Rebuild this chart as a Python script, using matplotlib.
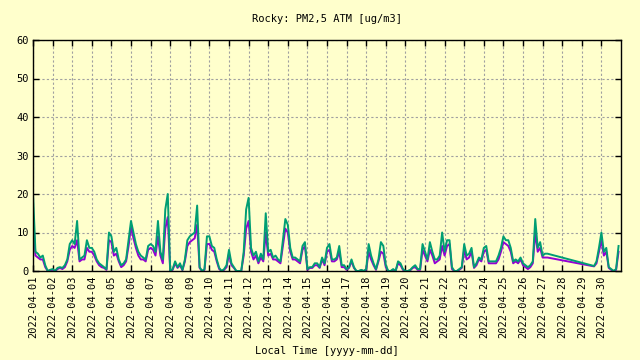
import pandas as pd
import matplotlib
matplotlib.use('Agg')
import matplotlib.pyplot as plt
import matplotlib.dates as mdates

# 3-hourly samples, 2022-04-01 00:00 .. 2022-04-27 06:00, then 2022-04-29 15:00 .. 2022-04-30 21:00
seg1_start, seg1_end = '2022-04-01 00:00', '2022-04-27 06:00'
seg2_start, seg2_end = '2022-04-29 15:00', '2022-04-30 21:00'

pm_b = [  # green
    20, 5, 4.5, 3.5, 4, 1.5, 0, 0.3,
    0.5, 0, 0.8, 1, 0.8, 1.5, 3, 7,
    8, 7, 13, 3, 3.5, 4, 8, 6,
    6, 5, 3, 2, 1.5, 1, 0.5, 10,
    9, 5, 6, 3, 1.5, 2, 3, 8,
    13, 10, 7, 5, 4, 3.5, 3, 6.5,
    7, 6.5, 5, 13, 5, 3, 16, 20,
    0, 0.5, 2.5, 1, 2, 0.3, 3, 8,
    9, 9.5, 10, 17, 1, 0, 0.5, 9,
    9, 6.5, 6, 3, 0.8, 0, 0.5, 1.5,
    5.5, 2, 1, 0, 0, 0, 5, 16,
    19, 6, 4, 5, 2.5, 4.5, 3, 15,
    5, 5.5, 3.5, 4, 3, 2.5, 8, 13.5,
    12, 6, 3.5, 3.5, 3, 2.5, 6.5, 7.5,
    0.5, 1, 1, 2, 2, 1, 3.5, 2,
    6, 7, 3, 3, 3.5, 6.5, 1.5, 1.5,
    0.5, 1, 3, 1, 0, 0, 0.3, 0,
    0.5, 7, 4, 2, 0.5, 3, 7.5, 6.5,
    1.5, 0, 0, 0.5, 0, 2.5, 2, 0.5,
    0, 0, 0.3, 1, 1.5, 0.5, 0.5, 7,
    5, 3, 7.5, 5, 3, 3, 4, 10,
    5, 8, 8, 1, 0, 0, 0.5, 1,
    7, 4, 4.5, 6, 1, 2, 3.5, 3,
    6, 6.5, 2.5, 2.5, 2.5, 2.5, 4, 6,
    9, 8, 8, 6, 2.5, 3, 2.5, 3.5,
    2, 1.5, 1, 1.5, 2.5, 13.5, 6, 7.5,
    4, 4.5, 4.5,
    1.3, 2.5, 6,
    10, 5, 6, 1, 0.5, 0, 0.5, 6.5,
]

pm_a = [  # violet
    15, 4, 3.5, 3, 3, 1, 0, 0.2,
    0.3, 0, 0.5, 0.8, 0.5, 1, 2.5, 5.5,
    6.5, 6, 8, 2.5, 3, 3, 6, 5,
    5, 4, 2.5, 1.5, 1, 0.8, 0.3, 8,
    7.5, 4, 4.5, 2.5, 1, 1.5, 2.5, 6.5,
    11.5, 8.5, 6, 4, 3, 3, 2.5, 5.5,
    6, 5.5, 4, 9, 4, 2, 11, 14,
    0, 0.3, 2, 0.8, 1.5, 0.2, 2.5, 6.5,
    7.5, 8, 8.5, 12, 0.8, 0, 0.3, 7,
    7, 5.5, 5, 2.5, 0.5, 0, 0.3, 1,
    4.5, 1.5, 0.8, 0, 0, 0, 4, 11,
    13, 5, 3, 4, 2, 3.5, 2.5, 10,
    4, 4.5, 3, 3, 2.5, 2, 6.5, 11,
    10, 5, 3, 3, 2.5, 2, 5.5, 6.5,
    0.3, 0.8, 0.8, 1.5, 1.5, 0.8, 3, 1.5,
    5, 5.5, 2.5, 2.5, 3, 5, 1, 1,
    0.3, 0.8, 2.5, 0.8, 0, 0, 0.2, 0,
    0.3, 5, 3, 1.5, 0.3, 2.5, 5, 4.5,
    1, 0, 0, 0.3, 0, 2, 1.5, 0.3,
    0, 0, 0.2, 0.8, 1, 0.3, 0.3, 5.5,
    4, 2.5, 5.5, 4, 2, 2.5, 3, 6.5,
    4, 6.5, 7, 0.5, 0, 0, 0.3, 0.8,
    5.5, 3, 3.5, 5, 0.8, 1.5, 3, 2.5,
    5, 5.5, 2, 2, 2, 2, 3, 5,
    7.5, 7, 6.5, 5, 2, 2.5, 2, 3,
    1.5, 1, 0.5, 1, 2, 10, 5, 6,
    3.5, 3.5, 3.5,
    1.2, 2, 5,
    8, 4, 5, 0.8, 0.3, 0, 0.3, 5,
]

times = pd.date_range(seg1_start, seg1_end, freq='3h').append(
    pd.date_range(seg2_start, seg2_end, freq='3h'))

day_ticks = pd.date_range('2022-04-01', '2022-04-30', freq='D')
y_ticks = [0, 10, 20, 30, 40, 50, 60]

bg = '#ffffcc'
plt.rcParams['font.family'] = ['DejaVu Sans Mono']
plt.rcParams['font.size'] = 7.5

fig = plt.figure(figsize=(6.4, 3.6), dpi=100, facecolor=bg)
ax = fig.add_axes([33 / 640, 89 / 360, 588 / 640, 231 / 360], facecolor=bg)

ax.plot(times, pm_a, color='#9400d3', lw=1.4)
ax.plot(times, pm_b, color='#009e73', lw=1.4)

ax.set_xlim(pd.Timestamp('2022-04-01'), pd.Timestamp('2022-05-01'))
ax.set_ylim(0, 60)
ax.set_yticks(y_ticks)
ax.set_xticks(day_ticks)
ax.xaxis.set_major_formatter(mdates.DateFormatter('%Y-%m-%d'))
plt.setp(ax.get_xticklabels(), rotation=90)

ax.tick_params(direction='in', length=4, width=1, top=True, right=True, pad=3)
ax.tick_params(axis='y', labelright=False)
ax.grid(True, color='#a0a0a0', linestyle=(0, (2, 2)), lw=0.8)
for s in ax.spines.values():
    s.set_linewidth(1.0)

ax.set_title('Rocky: PM2,5 ATM [ug/m3]', fontsize=7.5, pad=13)
ax.set_xlabel('Local Time [yyyy-mm-dd]', fontsize=7.5, labelpad=6)

fig.savefig('out.png', dpi=100, facecolor=bg)
